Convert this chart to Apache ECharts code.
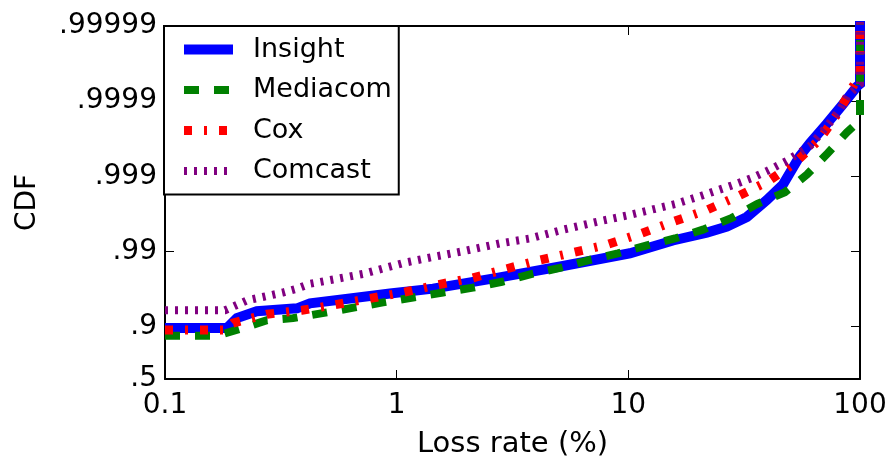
<!DOCTYPE html>
<html>
<head>
<meta charset="utf-8">
<script src="https://cdn.jsdelivr.net/npm/echarts@6/dist/echarts.min.js"></script>
<style>
  html, body { margin: 0; padding: 0; background: #fff; }
  #chart { width: 893px; height: 464px; }
</style>
</head>
<body>
<div id="chart"></div>
<script>
// Loss-rate CDF per ISP, loss rate in percent, CDF as a fraction.
const seriesNames = ['Insight', 'Mediacom', 'Cox', 'Comcast'];

const insightLoss = [0.1, 0.1851, 0.2045, 0.249, 0.3715, 0.4227, 0.6286, 0.936, 1.435, 2.709, 5.22, 10.16, 15.58, 21.83, 26.65, 32.5, 39.6, 46.5, 55.0, 60.8, 71.9, 84.4, 97.0, 100, 100];
const insightCdf  = [0.895, 0.895, 0.9226, 0.9374, 0.9427, 0.9508, 0.9577, 0.9636, 0.9687, 0.9775, 0.98433, 0.9894, 0.99284, 0.99438, 0.99531, 0.99652, 0.99792, 0.99871, 0.999463, 0.999637, 0.9998, 0.99989, 0.999936, 0.999941, 1];

const mediacomLoss = [0.1, 0.1675, 0.217, 0.2756, 0.3567, 0.5002, 0.6607, 0.8728, 1.176, 1.584, 2.135, 2.848, 3.837, 5.07, 6.76, 9.02, 12.03, 15.89, 20.99, 28.0, 35.9, 47.4, 59.0, 72.7, 87.8, 100, 100];
const mediacomCdf  = [0.867, 0.867, 0.8953, 0.9178, 0.9226, 0.9352, 0.9444, 0.9522, 0.9589, 0.9647, 0.9696, 0.97462, 0.98005, 0.98337, 0.98692, 0.9894, 0.99168, 0.99326, 0.99486, 0.99642, 0.997653, 0.998367, 0.999049, 0.99951, 0.99974, 0.99982, 1];

const coxLoss = [0.1, 0.1816, 0.1965, 0.2756, 0.390, 0.5524, 0.767, 1.065, 1.507, 2.135, 2.963, 4.154, 5.823, 8.166, 11.33, 15.58, 21.83, 29.7, 40.04, 52.4, 67.1, 80.6, 95.5, 100, 100];
const coxCdf  = [0.8888, 0.8888, 0.910, 0.9314, 0.9392, 0.9492, 0.9577, 0.9647, 0.9722, 0.9775, 0.98286, 0.98692, 0.98972, 0.99193, 0.99421, 0.99596, 0.997188, 0.998155, 0.998827, 0.999338, 0.999679, 0.999858, 0.999944, 0.999956, 1];

const comcastLoss = [0.1, 0.1816, 0.226, 0.323, 0.3715, 0.4227, 0.5524, 0.7157, 1.065, 1.420, 1.932, 2.791, 3.761, 5.22, 7.32, 10.16, 15.89, 20.99, 28.0, 34.56, 40.04, 48.36, 60.8, 71.9, 81.4, 88.2, 100, 100];
const comcastCdf  = [0.9392, 0.9392, 0.955, 0.9647, 0.9687, 0.973, 0.9768, 0.98005, 0.98568, 0.98806, 0.99003, 0.99217, 0.99326, 0.99486, 0.99596, 0.99673, 0.997653, 0.99821, 0.998676, 0.99896, 0.999158, 0.999377, 0.999604, 0.999783, 0.999866, 0.999915, 0.999941, 1];

const xTicks = [0.1, 1, 10, 100];
const yTickCdf = [0.5, 0.9, 0.99, 0.999, 0.9999, 0.99999];
const yTickLabels = ['.5', '.9', '.99', '.999', '.9999', '.99999'];

// The y scale counts "nines": -log10(1 - CDF). CDF = 1 is pushed past the top.
const nines = p => (p >= 1 ? 7 : -Math.log10(1 - p));
const yTickVals = yTickCdf.map(nines);
const yMin = yTickVals[0];
const yMax = yTickVals[yTickVals.length - 1];

const pairs = (xs, ps) => xs.map((x, i) => [x, nines(ps[i])]);

const FONT = 'DejaVu Sans';
const styles = [
  { color: '#0000ff', width: 10, type: 'solid' },
  { color: '#008000', width: 8, type: [15, 15] },
  { color: '#ff0000', width: 9, type: [8, 12, 3, 12] },
  { color: '#800080', width: 8, type: [3, 7] }
];
const dataSets = [
  pairs(insightLoss, insightCdf),
  pairs(mediacomLoss, mediacomCdf),
  pairs(coxLoss, coxCdf),
  pairs(comcastLoss, comcastCdf)
];

const yLabel = v => {
  let best = 0;
  yTickVals.forEach((t, i) => { if (Math.abs(t - v) < Math.abs(yTickVals[best] - v)) best = i; });
  return yTickLabels[best];
};

const tickStyle = { color: '#000', width: 1 };
const lineStyleAxis = { color: '#000', width: 2 };

const chart = echarts.init(document.getElementById('chart'), null, { renderer: 'canvas' });
chart.setOption({
  animation: false,
  backgroundColor: '#fff',
  grid: { left: 165, right: 33, top: 26, bottom: 80, containLabel: false },
  xAxis: [
    {
      type: 'log', logBase: 10, min: 0.1, max: 100, position: 'bottom',
      axisLine: { show: true, onZero: false, lineStyle: lineStyleAxis },
      axisTick: { show: true, inside: true, length: 9, lineStyle: tickStyle },
      minorTick: { show: false },
      splitLine: { show: false },
      axisLabel: { fontSize: 28, fontFamily: FONT, color: '#000', margin: 13,
        formatter: v => { const m = xTicks.find(t => Math.abs(Math.log10(t) - Math.log10(v)) < 1e-6); return m === undefined ? '' : String(m); } },
      name: 'Loss rate (%)', nameLocation: 'middle', nameGap: 51,
      nameTextStyle: { fontSize: 29, fontFamily: FONT, color: '#000' }
    },
    {
      type: 'log', logBase: 10, min: 0.1, max: 100, position: 'top',
      axisLine: { show: true, onZero: false, lineStyle: lineStyleAxis },
      axisTick: { show: true, inside: true, length: 9, lineStyle: tickStyle },
      splitLine: { show: false },
      axisLabel: { show: false }
    }
  ],
  yAxis: [
    {
      type: 'value', min: yMin, max: yMax, position: 'left',
      axisLine: { show: true, onZero: false, lineStyle: lineStyleAxis },
      axisTick: { show: true, inside: true, length: 9, lineStyle: tickStyle, customValues: yTickVals },
      splitLine: { show: false },
      axisLabel: { customValues: yTickVals, formatter: yLabel, fontSize: 28, fontFamily: FONT, color: '#000', margin: 8, padding: [3, 0, 0, 0] },
      name: 'CDF', nameLocation: 'middle', nameGap: 123, nameRotate: 90,
      nameTextStyle: { fontSize: 28, fontFamily: FONT, color: '#000' }
    },
    {
      type: 'value', min: yMin, max: yMax, position: 'right',
      axisLine: { show: true, onZero: false, lineStyle: lineStyleAxis },
      axisTick: { show: true, inside: true, length: 9, lineStyle: tickStyle, customValues: yTickVals },
      splitLine: { show: false },
      axisLabel: { show: false, customValues: yTickVals }
    }
  ],
  legend: {
    orient: 'vertical', left: 164, top: 26,
    padding: [10, 7, 10, 15],
    itemWidth: 49, itemHeight: 12, itemGap: 13.5,
    backgroundColor: '#fff', borderColor: '#000', borderWidth: 2, borderRadius: 0,
    itemStyle: { opacity: 0 },
    textStyle: { fontSize: 27, fontFamily: FONT, color: '#000', padding: [0, 0, 0, 15] },
    data: seriesNames.map((n, i) => ({ name: n, lineStyle: { width: styles[i].width } }))
  },
  series: seriesNames.map((n, i) => ({
    type: 'line', name: n, data: dataSets[i],
    xAxisIndex: 0, yAxisIndex: 0,
    symbol: 'none', showSymbol: false, clip: true,
    lineStyle: { color: styles[i].color, width: styles[i].width, type: styles[i].type, cap: 'butt', join: 'miter' },
    itemStyle: { color: styles[i].color },
    z: 2 + i
  }))
});
</script>
</body>
</html>
